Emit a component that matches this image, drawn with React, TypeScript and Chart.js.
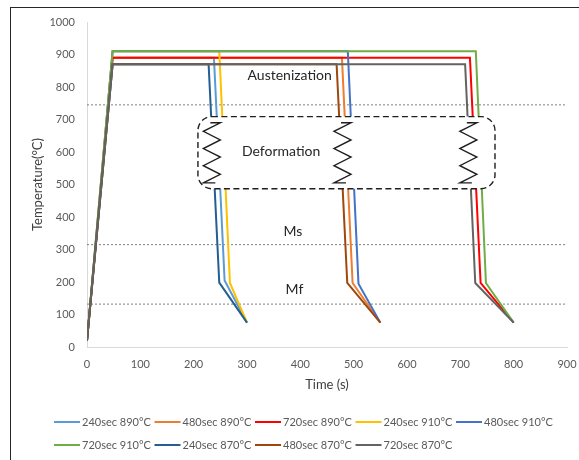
import React, { useEffect, useRef } from 'react';
import { Chart, registerables } from 'chart.js';

Chart.register(...registerables);

const FONT = 'Lato, "Open Sans", "DejaVu Sans", sans-serif';

// ---- data ----
const seriesLabels = [
  '240sec 890°C', '480sec 890°C', '720sec 890°C',
  '240sec 910°C', '480sec 910°C', '720sec 910°C',
  '240sec 870°C', '480sec 870°C', '720sec 870°C',
];
const seriesColors = [
  '#5B9BD5', '#ED7D31', '#FF0000',
  '#FFC000', '#4472C4', '#70AD47',
  '#255E91', '#9E480E', '#636363',
];

// time (s) / temperature (°C) of each cycle
const time240_890 = [0, 48, 238, 258, 300];
const temp240_890 = [20, 890, 890, 205, 75];
const time480_890 = [0, 48, 478, 498, 550];
const temp480_890 = [20, 890, 890, 197, 75];
const time720_890 = [0, 48, 718, 738, 800];
const temp720_890 = [20, 890, 890, 197, 75];
const time240_910 = [0, 48, 248, 268, 300];
const temp240_910 = [20, 910, 910, 197, 75];
const time480_910 = [0, 48, 489, 509, 550];
const temp480_910 = [20, 910, 910, 195, 75];
const time720_910 = [0, 48, 729, 748, 800];
const temp720_910 = [20, 910, 910, 197, 75];
const time240_870 = [0, 48, 228, 248, 300];
const temp240_870 = [20, 870, 870, 198, 75];
const time480_870 = [0, 48, 468, 488, 550];
const temp480_870 = [20, 870, 870, 197, 75];
const time720_870 = [0, 48, 709, 728, 800];
const temp720_870 = [20, 870, 870, 197, 75];

const seriesTimes = [time240_890, time480_890, time720_890, time240_910, time480_910, time720_910, time240_870, time480_870, time720_870];
const seriesTemps = [temp240_890, temp480_890, temp720_890, temp240_910, temp480_910, temp720_910, temp240_870, temp480_870, temp720_870];

// reference levels (°C)
const austenizationLevel = 745;
const msLevel = 315;
const mfLevel = 132;
const refSpan = [0, 900];

// deformation box (time, temp)
const boxTimes = [208, 765];
const boxTemps = [487, 709];
const springTimes = [235, 480, 716];
const springTemps = [505, 690];

// annotation texts: [text, time, temp]
const annotationTexts: [string, number, number][] = [
  ['Austenization', 380, 834],
  ['Deformation', 364, 603],
  ['Ms', 386, 356],
  ['Mf', 389, 177],
];

const xTicksMax = 900;
const yTicksMax = 1000;

const overlayPlugin = {
  id: 'overlay',
  afterDatasetsDraw(chart: any) {
    const { ctx } = chart;
    const xs = chart.scales.x;
    const ys = chart.scales.y;
    ctx.save();
    // box
    const l = xs.getPixelForValue(boxTimes[0]);
    const r = xs.getPixelForValue(boxTimes[1]);
    const t = ys.getPixelForValue(boxTemps[1]);
    const b = ys.getPixelForValue(boxTemps[0]);
    ctx.beginPath();
    ctx.roundRect(l, t, r - l, b - t, 14);
    ctx.fillStyle = '#ffffff';
    ctx.fill();
    ctx.setLineDash([6, 3.5]);
    ctx.lineWidth = 1.4;
    ctx.strokeStyle = '#1f1f1f';
    ctx.stroke();
    // springs
    ctx.setLineDash([]);
    ctx.lineWidth = 1.4;
    ctx.strokeStyle = '#1f1f1f';
    const st = ys.getPixelForValue(springTemps[1]);
    const sb = ys.getPixelForValue(springTemps[0]);
    springTimes.forEach((tm) => {
      const cx = xs.getPixelForValue(tm);
      const n = 7;
      const h = (sb - st) / n;
      ctx.beginPath();
      ctx.moveTo(cx - 2, st);
      for (let k = 0; k <= n; k++) {
        const px = k % 2 === 0 ? cx + 8 : cx - 9;
        ctx.lineTo(px, st + k * h);
      }
      ctx.lineTo(cx + 3, sb);
      ctx.stroke();
    });
    // texts
    ctx.fillStyle = '#262626';
    ctx.font = `14px ${FONT}`;
    ctx.textAlign = 'center';
    ctx.textBaseline = 'middle';
    annotationTexts.forEach(([txt, tm, tp]) => {
      ctx.fillText(txt, xs.getPixelForValue(tm), ys.getPixelForValue(tp));
    });
    ctx.restore();
  },
  afterDraw(chart: any) {
    const { ctx } = chart;
    ctx.save();
    ctx.font = `11px ${FONT}`;
    ctx.textAlign = 'left';
    ctx.textBaseline = 'middle';
    seriesLabels.forEach((lab, i) => {
      const row = Math.floor(i / 5);
      const col = i % 5;
      const x0 = 54 + col * 100.5;
      const y0 = 422 + row * 23;
      ctx.strokeStyle = seriesColors[i];
      ctx.lineWidth = 2;
      ctx.beginPath();
      ctx.moveTo(x0, y0);
      ctx.lineTo(x0 + 26, y0);
      ctx.stroke();
      ctx.fillStyle = '#595959';
      ctx.fillText(lab, x0 + 28, y0 + 0.5);
    });
    ctx.restore();
  },
};

export default function App() {
  const canvasRef = useRef<HTMLCanvasElement | null>(null);

  useEffect(() => {
    if (!canvasRef.current) return;
    const n = seriesLabels.length;
    const datasets: any[] = seriesLabels.map((lab, i) => ({
      label: lab,
      data: seriesTimes[i].map((tm, j) => ({ x: tm, y: seriesTemps[i][j] })),
      borderColor: seriesColors[i],
      backgroundColor: seriesColors[i],
      borderWidth: 2,
      pointRadius: 0,
      fill: false,
      tension: 0,
      order: n - 1 - i + 1,
    }));
    [austenizationLevel, msLevel, mfLevel].forEach((lv, k) => {
      datasets.push({
        label: 'ref' + k,
        data: refSpan.map((tm) => ({ x: tm, y: lv })),
        borderColor: '#808080',
        borderWidth: 1,
        borderDash: [2, 2],
        pointRadius: 0,
        fill: false,
        order: 100,
      });
    });

    const tickFont = { family: FONT, size: 11 };
    const plain = (v: any) => String(v);
    const chart = new Chart(canvasRef.current, {
      type: 'line',
      data: { datasets },
      plugins: [overlayPlugin],
      options: {
        responsive: false,
        animation: false,
        layout: { padding: { left: 0, top: 22, right: 12, bottom: 63 } },
        plugins: { legend: { display: false }, tooltip: { enabled: false } },
        scales: {
          x: {
            type: 'linear',
            min: 0,
            max: xTicksMax,
            ticks: { stepSize: 100, padding: 11, color: '#595959', font: tickFont, callback: plain },
            grid: { display: false, drawTicks: false },
            border: { display: true, color: '#d9d9d9', width: 1 },
            title: { display: true, text: 'Time (s)', color: '#404040', font: { family: FONT, size: 13 }, padding: { top: 0, bottom: 4 } },
            afterFit: (s: any) => { s.height = 50; s.paddingLeft = 0; s.paddingRight = 0; },
          },
          y: {
            type: 'linear',
            min: 0,
            max: yTicksMax,
            ticks: { stepSize: 100, padding: 12, color: '#595959', font: tickFont, callback: plain },
            grid: { display: false, drawTicks: false },
            border: { display: true, color: '#d9d9d9', width: 1 },
            title: { display: true, text: 'Temperature(°C)', color: '#404040', font: { family: FONT, size: 13 }, padding: { top: 30, bottom: 0 } },
            afterFit: (s: any) => { s.width = 87; s.paddingTop = 0; s.paddingBottom = 0; },
          },
        },
      } as any,
    });
    return () => chart.destroy();
  }, []);

  return (
    <div style={{ position: 'fixed', left: 0, top: 0, width: 579, height: 460, background: '#fff', overflow: 'hidden' }}>
      <div style={{ position: 'absolute', left: 10, top: 7, width: 600, height: 500, borderTop: '1px solid #262626', borderLeft: '1px solid #262626' }} />
      <canvas ref={canvasRef} width={579} height={460} style={{ position: 'absolute', left: 0, top: 0 }} />
    </div>
  );
}
